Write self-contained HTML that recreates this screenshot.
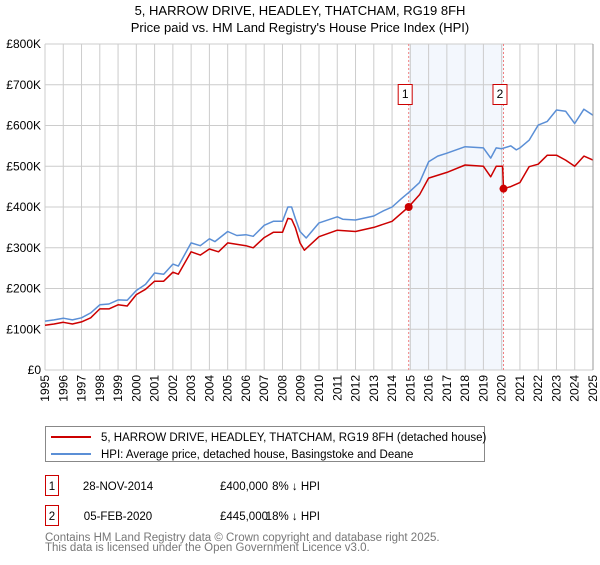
<!DOCTYPE html>
<html><head><meta charset="utf-8"><style>
body{margin:0;background:#fff;font-family:"Liberation Sans",sans-serif;}
svg text{font-family:"Liberation Sans",sans-serif;}
</style></head><body>
<svg id="c" width="600" height="560" xmlns="http://www.w3.org/2000/svg">
<text x="300" y="15" text-anchor="middle" font-size="13">5, HARROW DRIVE, HEADLEY, THATCHAM, RG19 8FH</text>
<text x="300" y="32" text-anchor="middle" font-size="13">Price paid vs. HM Land Registry's House Price Index (HPI)</text>
<g id="plot"></g>
<g>
<rect x="45.5" y="426.5" width="439" height="35" fill="#fff" stroke="#888"/>
<line x1="51" y1="437" x2="91" y2="437" stroke="#cc0000" stroke-width="2"/>
<text x="101" y="441" font-size="11.5">5, HARROW DRIVE, HEADLEY, THATCHAM, RG19 8FH (detached house)</text>
<line x1="51" y1="454" x2="91" y2="454" stroke="#5b8fd6" stroke-width="2"/>
<text x="101" y="458" font-size="11.5">HPI: Average price, detached house, Basingstoke and Deane</text>
</g>
<g font-size="11.5">
<rect x="45.5" y="475.5" width="13" height="20" fill="#fff" stroke="#cc0000"/>
<text x="52" y="490" text-anchor="middle">1</text>
<text x="118" y="490" text-anchor="middle">28-NOV-2014</text>
<text x="244" y="490" text-anchor="middle">£400,000</text>
<text x="320" y="490" text-anchor="end">8% ↓ HPI</text>
<rect x="45.5" y="505.5" width="13" height="20" fill="#fff" stroke="#cc0000"/>
<text x="52" y="520" text-anchor="middle">2</text>
<text x="118" y="520" text-anchor="middle">05-FEB-2020</text>
<text x="244" y="520" text-anchor="middle">£445,000</text>
<text x="320" y="520" text-anchor="end">18% ↓ HPI</text>
</g>
<text x="45" y="541" font-size="11.5" fill="#777">Contains HM Land Registry data © Crown copyright and database right 2025.</text>
<text x="45" y="551" font-size="11.5" fill="#777">This data is licensed under the Open Government Licence v3.0.</text>
</svg>
<script>
const hpiYears=[1995,1995.5,1996,1996.5,1997,1997.5,1998,1998.5,1999,1999.5,2000,2000.5,2001,2001.5,2002,2002.3,2003,2003.5,2004,2004.3,2005,2005.5,2006,2006.4,2007,2007.5,2008,2008.3,2008.5,2008.7,2008.96,2009.3,2010,2011,2011.3,2012,2013,2013.5,2014,2014.5,2014.9,2015.5,2016,2016.5,2017,2017.5,2018,2019,2019.4,2019.7,2020,2020.5,2020.8,2021,2021.5,2022,2022.5,2023,2023.5,2024,2024.5,2025];
const hpiValues=[120,123,127,123,128,140,160,162,172,171,195,210,238,235,260,255,312,305,322,315,340,330,332,328,355,365,365,400,400,372,340,324,361,376,370,368,378,390,400,420,435,460,511,525,532,540,548,545,520,545,543,550,540,545,564,601,610,638,635,605,640,625];
const ppYears=[1995,1995.5,1996,1996.5,1997,1997.5,1998,1998.5,1999,1999.5,2000,2000.5,2001,2001.5,2002,2002.3,2003,2003.5,2004,2004.5,2005,2006,2006.4,2007,2007.5,2008,2008.3,2008.5,2008.7,2008.96,2009.2,2010,2011,2012,2013,2014,2014.9,2015.5,2016,2017,2018,2019,2019.4,2019.7,2020.05,2020.1,2020.5,2021,2021.5,2022,2022.5,2023,2023.5,2024,2024.5,2025];
const ppValues=[110,113,117,113,118,128,150,150,160,157,185,198,218,218,240,235,290,282,297,290,312,305,300,325,338,338,372,370,350,312,294,327,343,340,350,365,400,430,471,485,503,500,474,500,500,445,450,460,499,505,527,527,515,500,525,515];
const saleYears=[2014.91,2020.1];
const saleValues=[400,445];
const saleLabels=["1","2"];
const yTicks=[0,100,200,300,400,500,600,700,800];
const yTickLabels=["£0","£100K","£200K","£300K","£400K","£500K","£600K","£700K","£800K"];
const xYears=[1995,1996,1997,1998,1999,2000,2001,2002,2003,2004,2005,2006,2007,2008,2009,2010,2011,2012,2013,2014,2015,2016,2017,2018,2019,2020,2021,2022,2023,2024,2025];

const NS="http://www.w3.org/2000/svg";
const X0=45,X1=593,Y0=370,Y1=44;
const xs=y=>X0+(y-1995)/30*(X1-X0);
const ys=v=>Y0-v/800*(Y0-Y1);
const g=document.getElementById('plot');
function mk(t,a){const e=document.createElementNS(NS,t);for(const k in a)e.setAttribute(k,a[k]);g.appendChild(e);return e;}
let e=mk('rect',{x:X0,y:Y1,width:X1-X0,height:Y0-Y1,fill:'#fff'});


e=mk('rect',{x:xs(saleYears[0]),y:Y1,width:xs(saleYears[1])-xs(saleYears[0]),height:Y0-Y1,fill:'#eef3fc',opacity:0.7});


xYears.forEach(yr=>{
 let l=mk('line',{x1:xs(yr),x2:xs(yr),y1:Y1,y2:Y0,stroke:'#ccc','stroke-width':1});
 
 
 let t=mk('text',{x:0,y:0,'font-size':12,'text-anchor':'end',transform:`translate(${xs(yr)+4},${Y0+5}) rotate(-90)`});
 t.textContent=yr;
 
 
});
yTicks.forEach((v,i)=>{
 let l=mk('line',{x1:X0,x2:X1,y1:ys(v),y2:ys(v),stroke:'#ccc','stroke-width':1});
 
 
 let t=mk('text',{x:41,y:ys(v)+4,'font-size':12,'text-anchor':'end'});
 t.textContent=yTickLabels[i];
 
 
});
saleYears.forEach((yr,i)=>{
 let l=mk('line',{x1:xs(yr),x2:xs(yr),y1:Y1,y2:Y0,stroke:'#f08080','stroke-width':1,'stroke-dasharray':'2,2'});
 
 
 let r=mk('rect',{x:xs(yr)-10.5,y:84.5,width:14,height:20,fill:'#fff',stroke:'#cc0000'});
 
 
 let t=mk('text',{x:xs(yr)-3.5,y:98,'font-size':12,'text-anchor':'middle'});
 t.textContent=saleLabels[i];
 
 
});
function path(xa,va,col,name){
 const d=xa.map((x,i)=>(i?'L':'M')+xs(x).toFixed(1)+','+ys(va[i]).toFixed(1)).join('');
 const p=mk('path',{d:d,fill:'none',stroke:col,'stroke-width':1.5,'stroke-linejoin':'round'});
 
 
}
path(hpiYears,hpiValues,'#5b8fd6','hpi-line');
path(ppYears,ppValues,'#cc0000','price-paid-line');
saleYears.forEach((yr,i)=>{
 const c=mk('circle',{cx:xs(yr),cy:ys(saleValues[i]),r:4,fill:'#cc0000'});
 
 
});
e=mk('line',{x1:X1,x2:X1,y1:Y1,y2:Y0,stroke:'#999','stroke-width':1});


</script>
</body></html>
